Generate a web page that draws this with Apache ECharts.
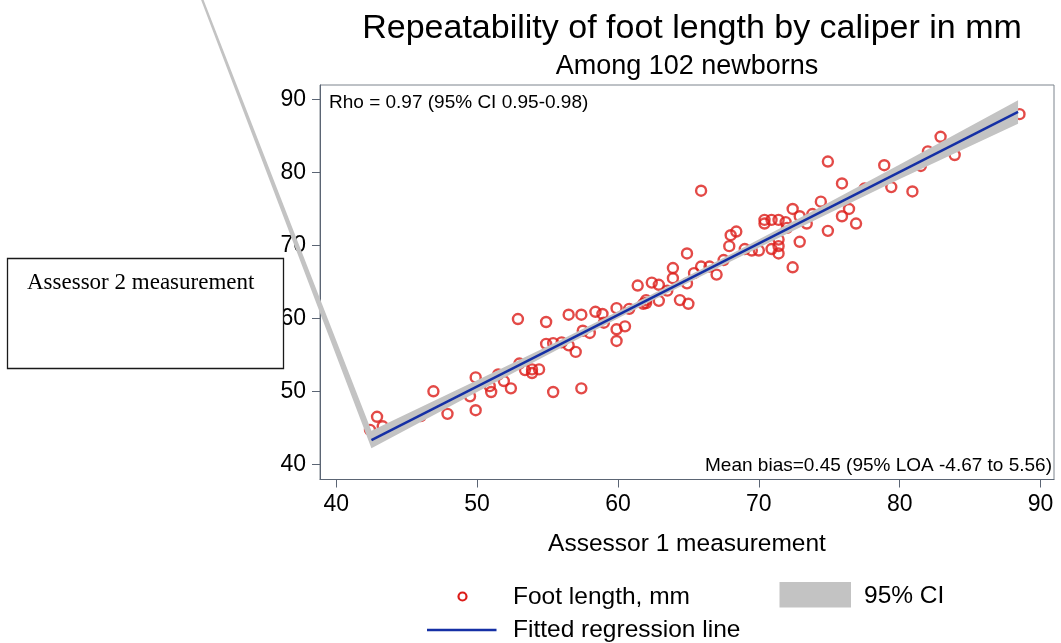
<!DOCTYPE html>
<html>
<head>
<meta charset="utf-8">
<script src="https://cdn.jsdelivr.net/npm/echarts@6/dist/echarts.min.js"></script>
<style>
html, body { margin: 0; padding: 0; background: #fff; }
#chart { width: 1061px; height: 643px; }
</style>
</head>
<body>
<div id="chart"></div>
<script>
// Foot length (mm) measured by caliper, one pair per newborn
const assessor1 = [
  42.4, 42.9, 43.3, 46.9, 47.9, 49.5, 49.9, 49.9, 51.0, 50.9,
  51.9, 52.4, 52.9, 53.4, 53.9, 53.9, 54.4, 54.9, 54.9, 55.4,
  55.4, 56.5, 57.4, 57.0, 57.4, 56.5, 58.0, 58.4, 58.9, 59.9,
  59.9, 60.5, 59.9, 61.4, 62.4, 62.9, 62.0, 62.0, 62.9, 63.9,
  63.9, 64.4, 65.0, 64.9, 64.9, 65.4, 65.9, 65.9, 67.0, 67.9,
  68.0, 68.4, 69.5, 70.0, 70.4, 70.9, 71.4, 70.4, 71.9, 71.4,
  71.4, 71.4, 70.9, 72.4, 72.4, 72.9, 72.9, 73.4, 74.4, 74.9,
  74.9, 75.9, 76.4, 75.9, 76.9, 78.9, 79.4, 80.9, 81.5, 82.0,
  82.9, 83.9, 88.5,
  44.5, 46.0, 51.5, 53.0, 56.0, 57.5, 59.0, 60.8, 61.8, 63.5,
  66.5, 67.5, 69.0, 72.0, 73.8, 77.5, 81.8, 84.5, 86.5
];
const assessor2 = [
  44.7, 46.5, 45.2, 50.0, 46.9, 49.3, 51.9, 47.4, 49.9, 50.7,
  51.4, 50.4, 59.9, 52.9, 53.0, 52.5, 53.0, 59.5, 56.5, 56.6,
  49.9, 60.5, 60.5, 55.4, 50.4, 56.3, 58.0, 60.9, 60.6, 61.4,
  58.5, 58.9, 56.9, 64.5, 64.9, 64.6, 62.1, 62.5, 62.4, 65.5,
  66.9, 62.5, 62.0, 64.8, 68.9, 66.2, 67.1, 77.5, 66.0, 69.9,
  71.4, 71.9, 69.3, 69.3, 73.5, 73.5, 73.5, 73.0, 73.2, 70.8,
  69.9, 68.9, 69.5, 75.0, 67.0, 74.0, 70.5, 73.0, 76.0, 81.5,
  72.0, 78.5, 75.0, 74.0, 73.0, 81.0, 78.0, 77.4, 80.9, 82.9,
  84.9, 82.4, 88.0,
  45.4, 46.6, 52.3, 53.8, 56.7, 58.3, 59.4, 61.3, 62.0, 63.8,
  67.1, 68.0, 69.5, 72.4, 74.3, 77.8, 82.0, 84.5, 86.6
];

// Fitted regression line
const fitX = [42.5, 88.4];
const fitY = [43.3, 88.3];

// 95% confidence band around the fit
const ciX     = [42.5, 50.0, 56.0, 62.0, 68.0, 74.0, 80.0, 88.4];
const ciLower = [42.2, 49.9, 56.0, 62.0, 67.8, 73.5, 79.1, 86.7];
const ciUpper = [44.6, 51.5, 57.1, 62.9, 68.8, 74.9, 81.1, 89.9];
// stray vertex that closes the band polygon
const ciStray = [23.4, 139.3];

const xTicks = [40, 50, 60, 70, 80, 90];
const yTicks = [40, 50, 60, 70, 80, 90];

const FONT = '"Liberation Sans", Arial, sans-serif';
const SERIF = '"Liberation Serif", serif';
const AXIS_COLOR = '#5b6574';
const RED = '#dc1d19';
const BLUE = '#1530a5';
const GRAY = '#c3c3c3';

const chart = echarts.init(document.getElementById('chart'), null, { renderer: 'canvas' });

const points = assessor1.map((x, i) => [x, assessor2[i]]);
const fitLine = fitX.map((x, i) => [x, fitY[i]]);
const ciRows = ciX.map((x, i) => [x, ciLower[i], ciUpper[i]]);

function label(x, y, text, size, align, family) {
  return {
    type: 'text', x: x, y: y, z: 50,
    style: { text: text, font: size + 'px ' + (family || FONT), fill: '#000',
             align: align, verticalAlign: 'middle' }
  };
}

chart.setOption({
  animation: false,
  backgroundColor: '#fff',
  grid: {
    left: 320, top: 85, width: 734, height: 394.5,
    show: true, borderColor: '#7d848d', borderWidth: 1,
    outerBoundsMode: 'none'
  },
  xAxis: {
    type: 'value', min: 38.85, max: 90.95,
    name: 'Assessor 1 measurement', nameLocation: 'middle', nameGap: 52,
    nameTextStyle: { fontFamily: FONT, fontSize: 24.5, color: '#000' },
    axisLine: { show: true, lineStyle: { color: AXIS_COLOR, width: 1 } },
    axisTick: { show: true, length: 8, lineStyle: { color: AXIS_COLOR }, customValues: xTicks },
    axisLabel: { fontFamily: FONT, fontSize: 23, color: '#000', margin: 14, customValues: xTicks },
    splitLine: { show: false }
  },
  yAxis: {
    type: 'value', min: 37.9, max: 92.0,
    axisLine: { show: true, lineStyle: { color: AXIS_COLOR, width: 1 } },
    axisTick: { show: true, length: 8, lineStyle: { color: AXIS_COLOR }, customValues: yTicks },
    axisLabel: { fontFamily: FONT, fontSize: 23, color: '#000', margin: 14, customValues: yTicks },
    splitLine: { show: false }
  },
  series: [
    {
      name: 'Foot length, mm',
      type: 'scatter',
      data: points,
      symbol: 'circle',
      symbolSize: 10,
      itemStyle: { color: 'rgba(255,255,255,0)', borderColor: RED, borderWidth: 2.4 },
      z: 2
    },
    {
      name: '95% CI',
      type: 'custom',
      data: ciRows,
      encode: { x: 0, y: [1, 2] },
      itemStyle: { color: GRAY },
      z: 3,
      renderItem: function (params, api) {
        if (params.dataIndex !== 0) return;
        const pts = [];
        for (let i = 0; i < ciX.length; i++) pts.push(api.coord([ciX[i], ciUpper[i]]));
        for (let i = ciX.length - 1; i >= 0; i--) pts.push(api.coord([ciX[i], ciLower[i]]));
        pts.push(api.coord(ciStray));
        return { type: 'polygon', shape: { points: pts }, style: { fill: GRAY } };
      }
    },
    {
      name: 'Fitted regression line',
      type: 'line',
      data: fitLine,
      symbol: 'none',
      lineStyle: { color: BLUE, width: 2.5 },
      itemStyle: { color: BLUE },
      z: 4
    }
  ],
  graphic: [
    label(692, 29, 'Repeatability of foot length by caliper in mm', 34, 'center'),
    label(687, 67, 'Among 102 newborns', 27, 'center'),
    label(329, 103, 'Rho = 0.97 (95% CI 0.95-0.98)', 19, 'left'),
    label(1052, 466, 'Mean bias=0.45 (95% LOA -4.67 to 5.56)', 19, 'right'),

    // y-axis title box
    {
      type: 'rect', z: 100,
      shape: { x: 7.5, y: 258.5, width: 276, height: 110 },
      style: { fill: '#fff', stroke: '#1a1a1a', lineWidth: 1.3 }
    },
    Object.assign(label(27, 283, 'Assessor 2 measurement', 23, 'left', SERIF), { z: 101 }),

    // legend keys
    {
      type: 'circle', z: 50,
      shape: { cx: 462.5, cy: 596.5, r: 4 },
      style: { fill: 'none', stroke: RED, lineWidth: 2.2 }
    },
    label(513, 597, 'Foot length, mm', 24.5, 'left'),
    {
      type: 'rect', z: 50,
      shape: { x: 779.5, y: 582, width: 71.5, height: 25.5 },
      style: { fill: GRAY }
    },
    label(864, 596, '95% CI', 24.5, 'left'),
    {
      type: 'line', z: 50,
      shape: { x1: 427, y1: 630, x2: 496.5, y2: 630 },
      style: { stroke: BLUE, lineWidth: 2.5 }
    },
    label(513, 630, 'Fitted regression line', 24.5, 'left')
  ]
});
</script>
</body>
</html>
